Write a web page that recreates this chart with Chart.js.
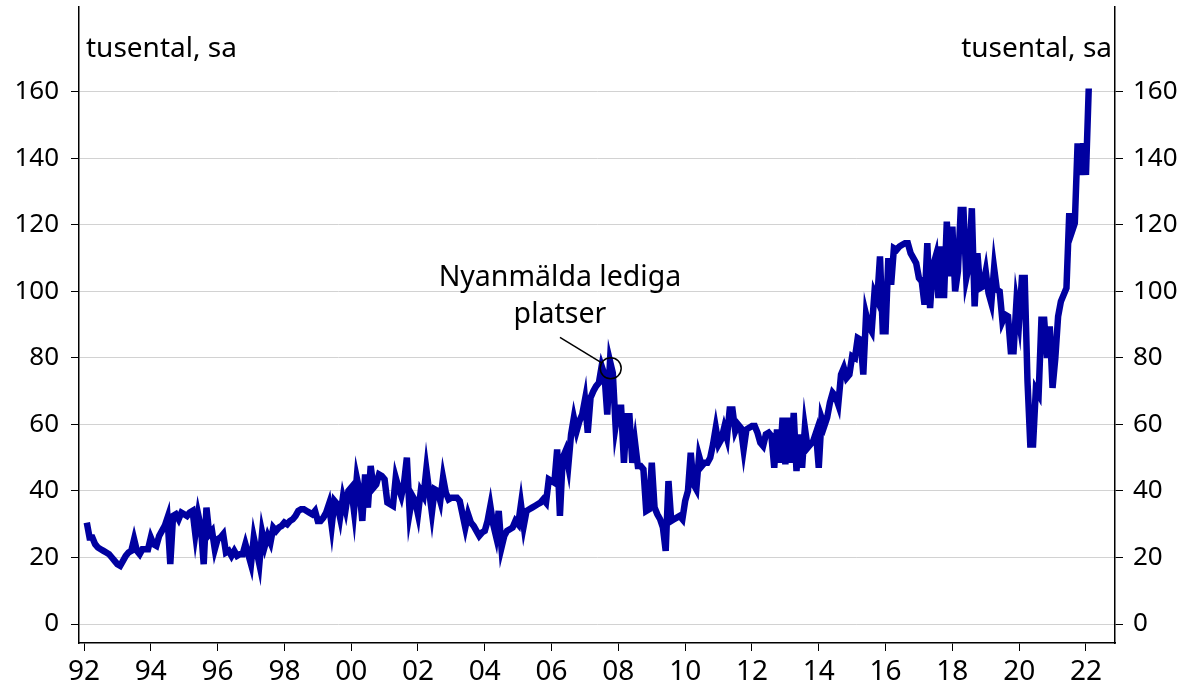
<!DOCTYPE html>
<html>
<head>
<meta charset="utf-8">
<script src="https://cdn.jsdelivr.net/npm/chart.js@4.4.1/dist/chart.umd.min.js"></script>
<style>
  html, body { margin: 0; padding: 0; background: #fff; }
  #wrap { width: 1181px; height: 692px; }
</style>
</head>
<body>
<div id="wrap"><canvas id="chart" width="1181" height="692"></canvas></div>
<script>
// Nyanmälda lediga platser, tusental, säsongsjusterat, månadsdata från jan 1992
const startYear = 1992;
const vacancies = [
  30.5, 26, 26, 24, 23, 22.5, 22, 21.5, 21, 20, 19, 18,            // 92
  17.5, 19, 20.5, 21.5, 22, 25.5, 22, 21, 22.5, 22.5, 22.5, 26,    // 93
  24, 23.5, 26.5, 28, 29.5, 32, 18, 32.5, 33, 31.5, 33.5, 33,      // 94
  32.5, 33.5, 34, 27, 33, 29, 18, 35, 27, 28, 22.5, 25.5,          // 95
  26, 27, 21.5, 22, 20.5, 22, 20.5, 21, 21, 24, 21, 18,            // 96
  26, 22, 18, 27.5, 23.5, 26.5, 24.5, 29, 28, 29, 29.5, 30.5,      // 97
  30, 31, 31.5, 32.5, 34, 34.5, 34.5, 34, 33.5, 33, 34, 31,        // 98
  31, 32, 33.5, 36, 29.5, 37, 36, 32, 38, 34.5, 40, 41,            // 99
  34, 44, 40, 31, 45, 35, 47.5, 41, 42, 45, 44.5, 43.5,            // 00
  36.5, 36, 35.5, 44, 41, 38.5, 42.5, 50, 33.5, 38.5, 37, 33,      // 01
  40, 38.5, 46.5, 40, 33.5, 40.5, 40, 37, 44, 39.5, 37.5, 38,      // 02
  38, 38, 37, 33, 29, 33, 30.5, 29.5, 28, 26.5, 27.5, 28,          // 03
  31, 35.5, 30, 26.5, 34, 23, 26.5, 28, 28.5, 29, 31, 30,          // 04
  36, 29.5, 34, 34.5, 35, 35.5, 36, 36.5, 37.5, 36.5, 43.5, 43,    // 05
  42.5, 52.5, 32.5, 50, 52, 47.5, 57, 62, 58, 61, 63, 67.5,        // 06
  57.5, 68, 70, 71.5, 72.5, 77.5, 75, 63, 79, 75.5, 59.5, 65,      // 07
  65, 48.5, 62.5, 62.5, 48.5, 54.5, 47.5, 47.5, 46.5, 34, 34.5, 48.5, // 08
  35, 33, 31.5, 29, 22, 43, 31, 31.5, 32, 32.5, 31.5, 37,          // 09
  40, 51.5, 42, 40.5, 50.5, 47.5, 48.5, 48.5, 50, 54, 59, 54,      // 10
  55.5, 59, 56, 64.5, 64.5, 58, 60, 59, 52.5, 58.5, 59, 59.5,      // 11
  59.5, 57.5, 54.5, 53.5, 57, 57.5, 56.5, 47, 58.5, 48.5, 62, 48,  // 12
  62, 48.5, 63.5, 46, 57, 47, 59, 53, 54, 55, 57.5, 47,            // 13
  62, 59.5, 62, 66.5, 69.5, 68.5, 66, 75, 77, 74, 75, 80.5,        // 14
  80, 86, 85.5, 75, 93, 89.5, 88, 99.5, 97.5, 110.5, 88, 88,       // 15
  110, 102, 113, 112.5, 113.5, 114, 114.5, 114.5, 111.5, 110, 108.5, 104, // 16
  103, 96, 114.5, 95, 107.5, 110.5, 98, 113.5, 98, 121, 104.5, 119.5,     // 17
  100, 106, 124.5, 124.5, 104, 108, 125, 95.5, 111.5, 101, 101.5, 106,    // 18
  99.5, 96.5, 107, 100.5, 100, 91, 93, 92.5, 82, 82, 96.5, 91,     // 19
  104, 104, 73, 54, 54, 70.5, 69, 91.5, 91.5, 80, 89.5, 71,        // 20
  80, 92.5, 97, 99, 101, 123.5, 118, 120.5, 144.5, 135, 144.5, 135, // 21
  161                                                              // 22
];
const yTicks = [0, 20, 40, 60, 80, 100, 120, 140, 160];
const xTicks = [1992, 1994, 1996, 1998, 2000, 2002, 2004, 2006, 2008, 2010,
                2012, 2014, 2016, 2018, 2020, 2022];
const unitLabel = 'tusental, sa';
const noteLines = ['Nyanmälda lediga', 'platser'];

const points = vacancies.map((v, i) => ({ x: startYear + (i + 1) / 12, y: v }));

const FONT = 'Noto Sans';
const yRange = { min: -5.7, max: 185.5 };

const overlay = {
  id: 'overlay',
  afterDraw(chart) {
    const { ctx, chartArea, scales } = chart;
    const xs = scales.x, ys = scales.y;
    ctx.save();
    ctx.fillStyle = '#000';
    ctx.font = `28px "${FONT}"`;
    ctx.textBaseline = 'alphabetic';

    // enhet ovanför båda axlarna
    ctx.textAlign = 'left';
    ctx.fillText(unitLabel, chartArea.left + 7, 57);
    ctx.textAlign = 'right';
    ctx.fillText(unitLabel, chartArea.right - 3, 57);

    // annotering vid toppen 2007
    ctx.font = `28.5px "${FONT}"`;
    const tx = xs.getPixelForValue(2006.25);
    const ty = ys.getPixelForValue(101.5);
    ctx.textAlign = 'center';
    ctx.fillText(noteLines[0], tx, ty);
    ctx.fillText(noteLines[1], tx, ty + 37);

    const cx = xs.getPixelForValue(2007.77);
    const cy = ys.getPixelForValue(76.9);
    const r = 10.5;
    ctx.strokeStyle = '#000';
    ctx.lineWidth = 1.5;
    ctx.beginPath();
    ctx.arc(cx, cy, r, 0, Math.PI * 2);
    ctx.stroke();

    const sx = tx, sy = ty + 51;
    const dx = sx - cx, dy = sy - cy;
    const len = Math.hypot(dx, dy);
    ctx.beginPath();
    ctx.moveTo(sx, sy);
    ctx.lineTo(cx + dx / len * r, cy + dy / len * r);
    ctx.stroke();
    ctx.restore();
  }
};

const yAxis = (pos, width) => ({
  type: 'linear',
  position: pos,
  min: yRange.min,
  max: yRange.max,
  afterBuildTicks: a => { a.ticks = yTicks.map(v => ({ value: v })); },
  afterFit: s => {
    s.width = width;
    s.paddingTop = 0;
    s.paddingBottom = 0;
  },
  grid: {
    color: '#d2d2d2',
    lineWidth: 1,
    drawOnChartArea: pos === 'left',
    tickColor: '#000',
    tickLength: 8,
  },
  border: { color: '#000', width: 1.5 },
  ticks: {
    color: '#000',
    font: { family: FONT, size: 26 },
    padding: pos === 'left' ? 12 : 10,
  },
});

new Chart(document.getElementById('chart'), {
  type: 'line',
  data: {
    datasets: [{
      label: 'Nyanmälda lediga platser',
      data: points,
      borderColor: '#0000a0',
      borderWidth: 6.5,
      pointRadius: 0,
      tension: 0,
      fill: false,
      yAxisID: 'y',
    }],
  },
  options: {
    responsive: false,
    animation: false,
    devicePixelRatio: 1,
    layout: { padding: { top: 7, left: 0, right: 0, bottom: 0 } },
    plugins: {
      legend: { display: false },
      tooltip: { enabled: false },
    },
    scales: {
      x: {
        type: 'linear',
        min: 1991.85,
        max: 2022.87,
        afterBuildTicks: a => { a.ticks = xTicks.map(v => ({ value: v })); },
        afterFit: s => {
          s.height = 49;
          s.paddingLeft = 0;
          s.paddingRight = 0;
        },
        grid: { drawOnChartArea: false, tickColor: '#000', tickLength: 8 },
        border: { color: '#000', width: 1.5 },
        ticks: {
          color: '#000',
          font: { family: FONT, size: 28 },
          padding: 4,
          maxRotation: 0,
          autoSkip: false,
          callback: v => String(v % 100).padStart(2, '0'),
        },
      },
      y: yAxis('left', 79),
      y2: yAxis('right', 66),
    },
  },
  plugins: [overlay],
});
</script>
</body>
</html>
